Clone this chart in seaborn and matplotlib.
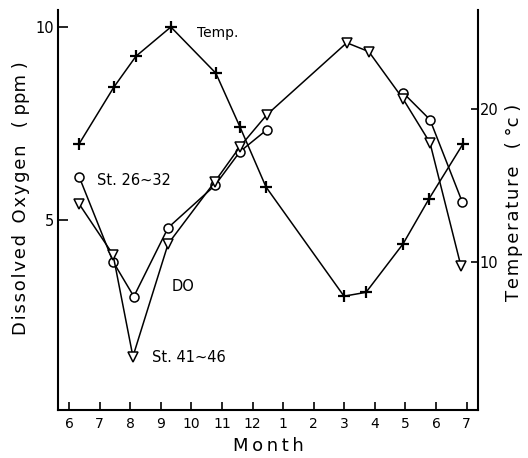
import numpy as np
import pandas as pd
import seaborn as sns
import matplotlib
matplotlib.use("Agg")
import matplotlib.pyplot as plt

# month positions: 6..12 then 1..7 of next year (13..19)
month_ticks = list(range(6, 20))
month_labels = ["6", "7", "8", "9", "10", "11", "12", "1", "2", "3", "4", "5", "6", "7"]

temp_month = [6.33, 7.47, 8.19, 9.33, 10.80, 11.59, 12.44, 14.99, 15.71, 16.92, 17.76, 18.88]
temp_val = [17.7, 21.4, 23.4, 25.3, 22.3, 18.8, 14.9, 7.8, 8.05, 11.2, 14.1, 17.7]

st26_month = [6.33, 7.44, 8.12, 9.24, 10.77, 11.59, 12.47, 16.92, 17.80, 18.85]
st26_do = [6.12, 3.91, 3.00, 4.79, 5.89, 6.77, 7.34, 8.30, 7.60, 5.47]
st26_seg = [0, 0, 0, 0, 0, 0, 0, 1, 1, 1]

st41_month = [6.33, 7.44, 8.09, 9.24, 10.77, 11.59, 12.47, 15.08, 15.80, 16.92, 17.80, 18.81]
st41_do = [5.41, 4.09, 1.44, 4.37, 5.99, 6.90, 7.73, 9.60, 9.37, 8.14, 7.00, 3.80]

sns.set_style("ticks")
plt.rcParams['font.family'] = ['DejaVu Sans']
plt.rcParams['text.color'] = 'black'
plt.rcParams['axes.labelcolor'] = 'black'
plt.rcParams['xtick.color'] = 'black'
plt.rcParams['ytick.color'] = 'black'


def spaced(s, gap="\u200a"):
    # widen letter spacing like the old typeset labels
    return gap.join(s)


fig = plt.figure(figsize=(5.28, 4.58), dpi=100)
ax = fig.add_axes([0.1098, 0.1048, 0.7955, 0.8732])
ax2 = ax.twinx()

df26 = pd.DataFrame({"m": st26_month, "do": st26_do, "seg": st26_seg})
df41 = pd.DataFrame({"m": st41_month, "do": st41_do})
dft = pd.DataFrame({"m": temp_month, "t": temp_val})

sns.lineplot(data=df26, x="m", y="do", units="seg", estimator=None, sort=False,
             color="black", lw=1.1, marker="o", markersize=6.5,
             markerfacecolor="white", markeredgecolor="black", markeredgewidth=1.1, ax=ax)
sns.lineplot(data=df41, x="m", y="do", sort=False, estimator=None,
             color="black", lw=1.1, marker="v", markersize=6.5,
             markerfacecolor="white", markeredgecolor="black", markeredgewidth=1.1, ax=ax)
sns.lineplot(data=dft, x="m", y="t", sort=False, estimator=None,
             color="black", lw=1.1, marker="+", markersize=9,
             markeredgecolor="black", markeredgewidth=1.6, ax=ax2)

ax.set_xlim(5.64, 19.37)
ax.set_ylim(0.05, 10.45)
ax2.set_ylim(0.4, 26.4)

ax.set_xticks(month_ticks)
ax.set_xticklabels(month_labels, fontsize=10)
ax.set_yticks([5, 10])
ax.set_yticklabels(["5", "10"], fontsize=10.5)
ax2.set_yticks([10, 20])
ax2.set_yticklabels(["10", "20"], fontsize=10.5)

ax.tick_params(axis="x", direction="in", length=6, width=1.2, pad=5)
ax.tick_params(axis="y", direction="in", length=7, width=1.2, pad=3)
ax2.tick_params(axis="y", direction="in", length=5, width=1.2, pad=1)

for a in (ax, ax2):
    a.spines["top"].set_visible(False)
    for s in ("left", "right", "bottom"):
        a.spines[s].set_linewidth(1.5)
        a.spines[s].set_color("black")
ax.spines["right"].set_visible(False)
ax2.spines["left"].set_visible(False)
ax2.spines["bottom"].set_visible(False)

ax.set_xlabel(spaced("Month", "\u2009"), fontsize=13, labelpad=4)
ax.set_ylabel(spaced("Dissolved") + "  " + spaced("Oxygen") + "   ( ppm )",
              fontsize=13, labelpad=4)
ax.yaxis.label.set_y(0.53)
ax2.set_ylabel(spaced("Temperature") + "   ( \u00b0c )", fontsize=13, labelpad=5)
ax2.yaxis.label.set_y(0.52)

ax.text(10.18, 9.86, "Temp.", fontsize=10, va="center", ha="left")
ax.text(6.92, 6.02, "St. 26~32", fontsize=10.5, va="center", ha="left")
ax.text(9.37, 3.26, "DO", fontsize=10.5, va="center", ha="left")
ax.text(8.71, 1.41, "St. 41~46", fontsize=10.5, va="center", ha="left")

fig.savefig("out.png", dpi=100)
